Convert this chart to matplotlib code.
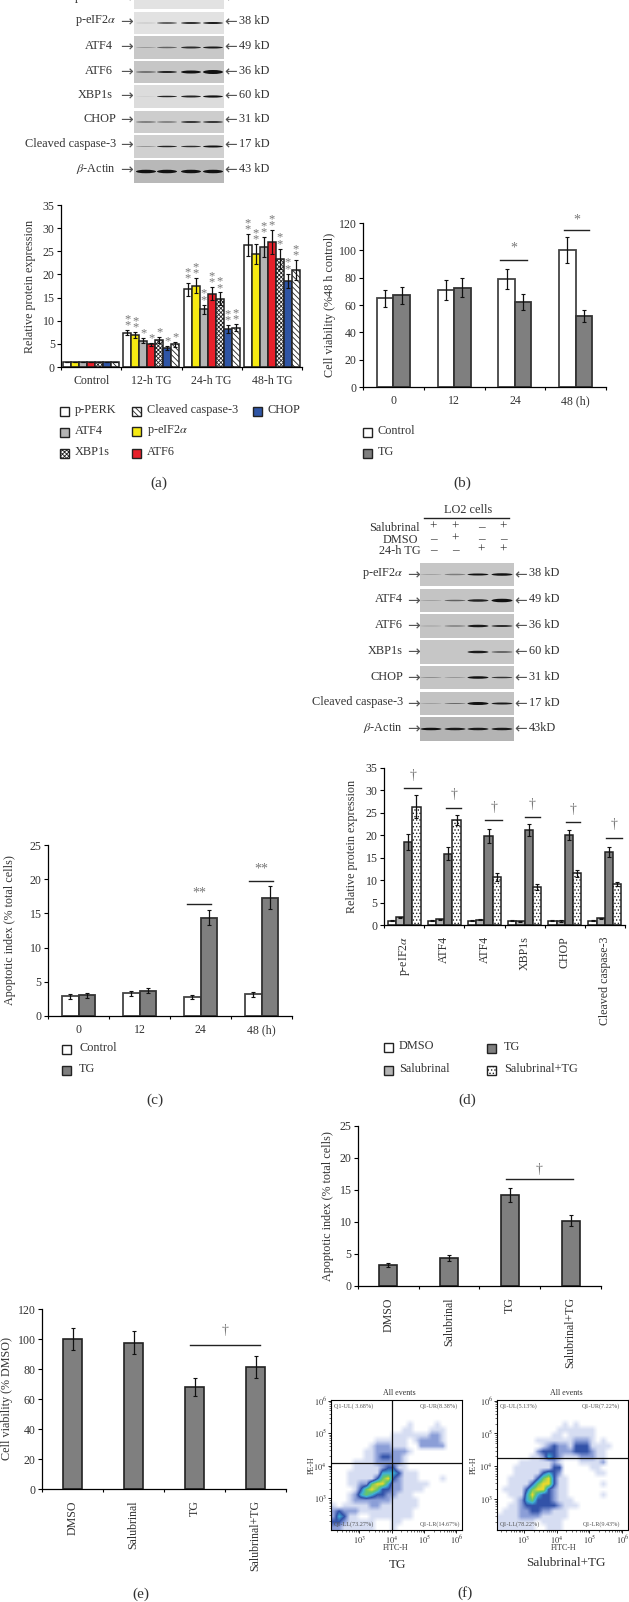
import numpy as np
import matplotlib
matplotlib.use("Agg")
import matplotlib.pyplot as plt
from matplotlib.colors import LinearSegmentedColormap
from matplotlib.patches import Rectangle, Ellipse

W, H = 629, 1602
plt.rcParams['font.family'] = ['Liberation Serif', 'DejaVu Serif']
plt.rcParams['mathtext.fontset'] = 'stix'
plt.rcParams['hatch.linewidth'] = 0.6
plt.rcParams['axes.unicode_minus'] = False
INK = '#333333'
STAR = '#777777'

# panel a
a_groups = ['Control', '12-h TG', '24-h TG', '48-h TG']
a_names = ['p-PERK', r'p-eIF2$\alpha$', 'ATF4', 'ATF6', 'XBP1s', 'CHOP', 'Cleaved caspase-3']
a_values = [[1, 7.4, 16.8, 26.3], [1, 6.9, 17.6, 24.4], [1, 5.7, 12.5, 25.9], [1, 4.9, 15.8, 27.0],
            [1, 5.8, 14.7, 23.4], [1, 4.1, 8.2, 18.6], [1, 4.9, 8.5, 21.0]]
a_errors = [[0, .5, 1.4, 2.4], [0, .6, 1.6, 2.2], [0, .5, 1.0, 2.1], [0, .3, 1.4, 2.6],
            [0, .6, 1.4, 2.2], [0, .4, .9, 1.6], [0, .5, .8, 2.2]]
a_stars = [[0, 2, 2, 2], [0, 2, 2, 2], [0, 1, 2, 2], [0, 1, 2, 2],
           [0, 1, 2, 2], [0, 1, 2, 2], [0, 1, 2, 2]]

# panel b
time_labels = ['0', '12', '24', '48 (h)']
b_control = [65, 71, 79, 100]
b_control_err = [6.3, 7, 7.5, 9.5]
b_tg = [67, 72.5, 62, 52]
b_tg_err = [6.5, 7, 6, 4.2]

# panel c
c_control = [2.9, 3.3, 2.8, 3.2]
c_control_err = [.35, .35, .3, .35]
c_tg = [3.0, 3.7, 14.4, 17.3]
c_tg_err = [.35, .4, 1.1, 1.7]

# panel d
d_groups = [r'p-eIF2$\alpha$', 'ATF4', 'ATF4', 'XBP1s', 'CHOP', 'Cleaved caspase-3']
d_dmso = [1, 1, 1, 1, 1, 1]
d_sal = [1.7, 1.3, 1.2, .8, .9, 1.5]
d_tg = [18.5, 15.9, 19.9, 21.2, 20.1, 16.3]
d_tg_err = [1.7, 1.4, 1.6, 1.3, 1.1, 1.1]
d_both = [26.4, 23.5, 10.7, 8.5, 11.5, 9.1]
d_both_err = [2.6, 1.1, .9, .7, .7, .5]
d_sig = [30.5, 26.1, 23.4, 24.0, 22.9, 19.4]

# panels e and f
treatments = ['DMSO', 'Salubrinal', 'TG', 'Salubrinal+TG']
e_values = [100, 97.5, 68, 81.5]
e_errors = [7.5, 7.8, 5.8, 7.5]
f_values = [3.3, 4.4, 14.2, 10.2]
f_errors = [.3, .45, 1.1, .9]

# flow plots: density class per cell, read by eye (top row first)
flow_tg = [
    "000000000000000000000000",
    "000000000000000000000000",
    "000000000000000000000000",
    "000000000000000000000000",
    "000000000000001000010000",
    "000000000000011000111000",
    "000000000001111111221000",
    "000000001111110122221000",
    "000000012221110022222000",
    "000000112222221000000000",
    "000000112332210000000000",
    "000011112222210000000000",
    "000011111233110000000000",
    "000111111444311100000000",
    "000111113563211100001000",
    "000112256642211111000000",
    "000013565332211110000000",
    "000124543322111000000000",
    "000122222221111100000000",
    "101111122111111100000000",
    "232221111111111000000000",
    "243110011111111000000000",
    "332111110001100000000000",
    "221111110001000000000000",
]
flow_both = [
    "000000000000000000000000",
    "000000000000000000000000",
    "000000000000000000000000",
    "000000000000000000000000",
    "000000000000101000000000",
    "000000000001111111000000",
    "000000000011011111000000",
    "000000011111112221010000",
    "000000001232213331111000",
    "000000023332223332110000",
    "000000112432111222110000",
    "000011111121000111120000",
    "000111111133000001100000",
    "000111113432000000110000",
    "001111135631100000000000",
    "001111356631100000010000",
    "011113566321100000000000",
    "001114643321100000010000",
    "000124533321110000000000",
    "001123333332111000000000",
    "011122332211100000000000",
    "111122221111100000000000",
    "111111101111000000000000",
    "111111100111000000000000",
]
flow_colors = ['#ffffff', '#d6ddf2', '#8c9fd8', '#3252a8', '#3fb0d8', '#66c66a', '#ecd92c', '#f08020']

# blots: band strength and thickness per lane
blot1_names = ['p-PERK', r'p-eIF2$\alpha$', 'ATF4', 'ATF6', 'XBP1s', 'CHOP', 'Cleaved caspase-3', r'$\beta$-Actin']
blot1_sizes = ['125 kD', '38 kD', '49 kD', '36 kD', '60 kD', '31 kD', '17 kD', '43 kD']
blot1_bg = ['#e2e2e2', '#e2e2e2', '#c8c8c8', '#c6c6c6', '#dcdcdc', '#cdcdcd', '#d0d0d0', '#b8b8b8']
blot1_dark = [[0, 0, 0, 0], [.15, .8, .85, .95], [.25, .55, .85, .95], [.6, .9, 1, 1],
              [.08, .9, .9, 1], [.8, .75, .8, .8], [.3, .9, .85, 1], [1, 1, 1, 1]]
blot1_thick = [[1, 1, 1, 1], [1, 1.5, 2, 2], [1, 1.5, 2, 2], [1.5, 2, 3, 4],
               [.7, 1.5, 2, 2.2], [1, 1, 2, 2], [1, 1.5, 1.5, 2], [3.5, 3.5, 3.5, 3.5]]
blot2_names = blot1_names[1:]
blot2_sizes = blot1_sizes[1:-1] + ['43kD']
blot2_bg = ['#c6c6c6', '#c4c4c4', '#c4c4c4', '#c6c6c6', '#c4c4c4', '#c2c2c2', '#b4b4b4']
blot2_dark = [[.2, .4, 1, 1], [.2, .55, .9, 1], [.2, .5, .95, .85], [0, 0, .95, .7],
              [.3, .25, 1, .8], [.2, .5, 1, .95], [1, .95, .95, .95]]
blot2_thick = [[1, 1.5, 2, 2.5], [1, 1.5, 2.5, 3.5], [1, 1.2, 2.5, 2], [1, 1, 2.5, 1.5],
               [1, 1, 2.5, 1.5], [1, 1, 3, 2], [2.5, 2.5, 2.5, 2.5]]
treat_signs = [['+', '+', '–', '+'], ['–', '+', '–', '–'], ['–', '–', '+', '+']]
treat_names = ['Salubrinal', 'DMSO', '24-h TG']

styles = {
    'p-PERK': dict(facecolor='white'),
    r'p-eIF2$\alpha$': dict(facecolor='#f6ea12'),
    'ATF4': dict(facecolor='#b4b4b4'),
    'ATF6': dict(facecolor='#e7202a'),
    'XBP1s': dict(facecolor='white', hatch='xxxxxxxx'),
    'CHOP': dict(facecolor='#2f55a5'),
    'Cleaved caspase-3': dict(facecolor='white', hatch='\\\\\\\\\\\\'),
    'Control': dict(facecolor='white'),
    'TG': dict(facecolor='#7f7f7f'),
    'DMSO': dict(facecolor='white'),
    'Salubrinal': dict(facecolor='#b4b4b4'),
    'Salubrinal+TG': dict(facecolor='white', hatch='.....'),
}

fig = plt.figure(figsize=(W / 100, H / 100), dpi=100)


def px_axes(left, top, right, bottom):
    return fig.add_axes([left / W, 1 - bottom / H, (right - left) / W, (bottom - top) / H])


def bar_axes(box, ymax, ystep, ylabel, label_x, labels, rotate=False):
    ax = px_axes(*box)
    n = len(labels)
    ax.set_xlim(0, n)
    ax.set_ylim(0, ymax)
    ax.patch.set_alpha(0)
    ax.spines[['top', 'right']].set_visible(False)
    ax.spines[['left', 'bottom']].set_linewidth(0.9)
    ax.set_yticks(np.arange(0, ymax + 1, ystep))
    ax.set_xticks(np.arange(n + 1))
    ax.set_xticklabels([])
    ax.set_xticks(np.arange(n) + .5, labels, minor=True)
    ax.tick_params(axis='x', which='major', length=2.5, width=.8)
    ax.tick_params(axis='x', which='minor', length=0, labelsize=8.6, labelcolor=INK,
                   pad=6 if not rotate else 8, labelrotation=90 if rotate else 0)
    ax.tick_params(axis='y', length=3, width=.8, pad=1.5, labelsize=8.6, labelcolor=INK)
    ax.set_ylabel(ylabel, fontsize=8.7, color=INK, va='center')
    ax.yaxis.set_label_coords((label_x - box[0]) / (box[2] - box[0]), .5)
    if rotate:
        for t in ax.get_xticklabels(minor=True):
            t.set_va('top')
    return ax


def draw_bars(ax, x, values, errors, width, style, edge='#222222', lw=1.1):
    ax.bar(x, values, width, edgecolor=edge, linewidth=lw, **style)
    ax.errorbar(x, values, yerr=errors, fmt='none', ecolor='#111111', elinewidth=.9, capsize=1.4, capthick=.8)


def sig(ax, x0, x1, y, mark, mark_y):
    ax.plot([x0, x1], [y, y], color='#222222', lw=1, clip_on=False)
    ax.text((x0 + x1) / 2, mark_y, mark, color=STAR, fontsize=10, ha='center', va='center', clip_on=False)


# panel a
ax = bar_axes((61, 205, 302, 367), 35, 5, 'Relative protein expression', 30, a_groups)
bw = 8 / 60
for i, name in enumerate(a_names):
    x = np.arange(4) + .5 + (i - 3) * bw
    draw_bars(ax, x, a_values[i], a_errors[i], bw, styles[name])
    for j in range(4):
        top = a_values[i][j] + a_errors[i][j]
        for k in range(a_stars[i][j]):
            ax.annotate('*', (x[j], top), xytext=(0, -1 + 4.4 * k), textcoords='offset points', color=STAR,
                        fontsize=9, ha='center', va='bottom', annotation_clip=False)

# panel b
ax = bar_axes((363, 223, 606, 387), 120, 20, 'Cell viability (%48 h control)', 330, time_labels)
draw_bars(ax, np.arange(4) + .5 - .135, b_control, b_control_err, .27, styles['Control'], '#444444', 1.3)
draw_bars(ax, np.arange(4) + .5 + .135, b_tg, b_tg_err, .27, styles['TG'], '#333333', 1.3)
sig(ax, 2.255, 2.705, 93, '*', 102)
sig(ax, 3.315, 3.726, 114.6, '*', 122)

# panel c
ax = bar_axes((48, 845, 292, 1016), 25, 5, 'Apoptotic index (% total cells)', 10, time_labels)
draw_bars(ax, np.arange(4) + .5 - .135, c_control, c_control_err, .27, styles['Control'], '#444444', 1.3)
draw_bars(ax, np.arange(4) + .5 + .135, c_tg, c_tg_err, .27, styles['TG'], '#333333', 1.3)
sig(ax, 2.284, 2.67, 16.4, '**', 18)
sig(ax, 3.29, 3.69, 19.7, '**', 21.5)

# panel d
ax = bar_axes((384, 768, 625, 925), 35, 5, 'Relative protein expression', 352, d_groups, rotate=True)
bw = .205
xs = np.arange(6) + .5
draw_bars(ax, xs - 1.5 * bw, d_dmso, .1, bw, styles['DMSO'])
draw_bars(ax, xs - .5 * bw, d_sal, .12, bw, styles['Salubrinal'])
draw_bars(ax, xs + .5 * bw, d_tg, d_tg_err, bw, styles['TG'])
draw_bars(ax, xs + 1.5 * bw, d_both, d_both_err, bw, styles['Salubrinal+TG'])
spans = [(.497, .929), (.542, .924), (.512, .944), (.499, .889), (.519, .884), (.539, .92)]
for i, (a, b) in enumerate(spans):
    sig(ax, i + a, i + b, d_sig[i], '†', d_sig[i] + 2.9)

# panel e
ax = bar_axes((42, 1309, 286, 1489), 120, 20, 'Cell viability (% DMSO)', 7, treatments, rotate=True)
draw_bars(ax, np.arange(4) + .5, e_values, e_errors, .3, styles['TG'], '#222222', 1.2)
sig(ax, 2.43, 3.57, 95.9, '†', 106)

# panel f
ax = bar_axes((358, 1126, 601, 1286), 25, 5, 'Apoptotic index (% total cells)', 328, treatments, rotate=True)
draw_bars(ax, np.arange(4) + .5, f_values, f_errors, .3, styles['TG'], '#222222', 1.2)
sig(ax, 2.43, 3.54, 16.7, '†', 18.2)


# axes run in log10 units so the density grid can be smoothed on screen
def flow_axes(box, rows, xlim, ylim, hline, vline=None):
    ax = px_axes(*box)
    grid = np.array([[int(c) for c in r] for r in rows], dtype=float)
    cmap = LinearSegmentedColormap.from_list('flow', flow_colors)
    ax.imshow(grid, cmap=cmap, vmin=0, vmax=7, interpolation='bilinear', aspect='auto',
              extent=(xlim[0], xlim[1], ylim[0], ylim[1]))
    decades = [3, 4, 5, 6]
    logs = np.log10(np.arange(2, 10))
    for axis, lim in ((ax.xaxis, xlim), (ax.yaxis, ylim)):
        axis.set_ticks(decades, [f'$10^{{{d}}}$' for d in decades])
        minor = [d + m for d in range(2, 7) for m in logs if lim[0] < d + m < lim[1]]
        axis.set_ticks(minor, minor=True)
    ax.set_xlim(*xlim)
    ax.set_ylim(*ylim)
    ax.tick_params(which='major', length=2, width=.6, labelsize=6, pad=1, labelcolor=INK)
    ax.tick_params(which='minor', length=1.2, width=.4)
    ax.axhline(hline, color='#111111', lw=.9)
    if vline:
        ax.axvline(vline, color='#111111', lw=.9)
    for s in ax.spines.values():
        s.set_linewidth(.8)


flow_axes((331, 1400, 462, 1530), flow_tg, (2.13, 6.17), (2.03, 6.02), 4.1, 4.01)
flow_axes((497, 1400, 628, 1530), flow_both, (2.19, 6.17), (2.06, 6.02), 4.255)

# overlay in pixel coordinates for blots, legends and captions
ov = fig.add_axes([0, 0, 1, 1], zorder=5)
ov.set_xlim(0, W)
ov.set_ylim(H, 0)
ov.axis('off')


def label(x, y, s, size=8.8, ha='left', color=INK, **kw):
    ov.text(x, y, s, fontsize=size, ha=ha, va='center', color=color, **kw)


def blot(x0, x1, tops, bottoms, lanes, bg, dark, thick, lane_w):
    for t, b, c, ds, ts in zip(tops, bottoms, bg, dark, thick):
        ov.add_patch(Rectangle((x0, t), x1 - x0, b - t, facecolor=c, edgecolor='none'))
        for lx, d, th in zip(lanes, ds, ts):
            if d > 0:
                ov.add_patch(Ellipse((lx, (t + b) / 2), lane_w, th, facecolor='#111111', edgecolor='none', alpha=d))


tops1 = [-14, 12, 36, 61, 85, 111, 135, 160]
bots1 = [9, 34, 59, 83, 108, 133, 158, 183]
blot(134, 224, tops1, bots1, [146, 167, 191, 213], blot1_bg, blot1_dark, blot1_thick, 20)
right_edge = [116, 116, 113, 113, 113, 116, 116, 116]
ys1 = [-2, 22, 47, 72, 96, 120, 145, 170]
for name, size, y, r in zip(blot1_names, blot1_sizes, ys1, right_edge):
    label(r, y - 1, name, ha='right')
    label(120, y, '→', size=11, color='#555555', family='DejaVu Sans')
    label(224, y, '←', size=11, color='#555555', family='DejaVu Sans')
    label(239, y - 1, size)

tops2 = [563, 589, 614, 640, 666, 692, 717]
bots2 = [586, 612, 638, 664, 689, 715, 741]
blot(420, 514, tops2, bots2, [431, 455, 478, 502], blot2_bg, blot2_dark, blot2_thick, 21)
for name, size, t, b in zip(blot2_names, blot2_sizes, tops2, bots2):
    y = (t + b) / 2
    label(403, y - 1, name, ha='right')
    label(407, y, '→', size=11, color='#555555', family='DejaVu Sans')
    label(514, y, '←', size=11, color='#555555', family='DejaVu Sans')
    label(529, y - 1, size)

label(468, 510, 'LO2 cells', ha='center')
ov.plot([424, 509], [518, 518], color='#222222', lw=1)
for name, signs, y, r in zip(treat_names, treat_signs, [528, 540, 551], [420, 418, 421]):
    label(r, y, name, ha='right')
    for lx, s in zip([433, 455, 481, 503], signs):
        label(lx, y - 1, s, size=9.5, ha='center')


def legend_item(x, y, name, tx):
    ov.add_patch(Rectangle((x, y - 4.5), 9, 9, edgecolor='#222222', linewidth=1, **styles[name]))
    label(tx, y - 1, name)


for x, y, name, tx in [(60, 411, 'p-PERK', 75), (60, 432, 'ATF4', 75), (60, 453, 'XBP1s', 75),
                       (132, 411, 'Cleaved caspase-3', 147), (132, 431, r'p-eIF2$\alpha$', 147),
                       (132, 453, 'ATF6', 147), (253, 411, 'CHOP', 268),
                       (363, 432, 'Control', 378), (363, 453, 'TG', 378),
                       (62, 1049, 'Control', 79), (62, 1070, 'TG', 79),
                       (384, 1047, 'DMSO', 399), (384, 1070, 'Salubrinal', 399),
                       (487, 1048, 'TG', 504), (487, 1070, 'Salubrinal+TG', 504)]:
    legend_item(x, y, name, tx)

for x, y, s in [(159, 483, '(a)'), (462, 483, '(b)'), (155, 1100, '(c)'), (467, 1100, '(d)'),
                (141, 1594, '(e)'), (465, 1593, '(f)')]:
    label(x, y, s, size=11, ha='center')

label(398, 1565, 'TG', size=9.5, ha='center')
label(566, 1563, 'Salubrinal+TG', size=9.5, ha='center')
for x in (399, 566):
    label(x, 1393, 'All events', size=5.8, ha='center')
for x in (396, 564):
    label(x, 1548, 'FITC-H', size=5.8, ha='center')
for x in (312, 474):
    label(x, 1465, 'PE-H', size=5.8, ha='center', rotation=90)
for x, y, s, ha in [(334, 1406, 'Q1-UL( 3.68%)', 'left'), (458, 1406, 'Q1-UR(8.38%)', 'right'),
                    (334, 1524, 'Q1-LL(73.27%)', 'left'), (460, 1524, 'Q1-LR(14.67%)', 'right'),
                    (500, 1406, 'Q1-UL(5.13%)', 'left'), (620, 1406, 'Q1-UR(7.22%)', 'right'),
                    (500, 1524, 'Q1-LL(78.22%)', 'left'), (620, 1524, 'Q1-LR(9.43%)', 'right')]:
    label(x, y, s, size=4.4, ha=ha, color='#555555')

fig.savefig('out.png', dpi=100)
